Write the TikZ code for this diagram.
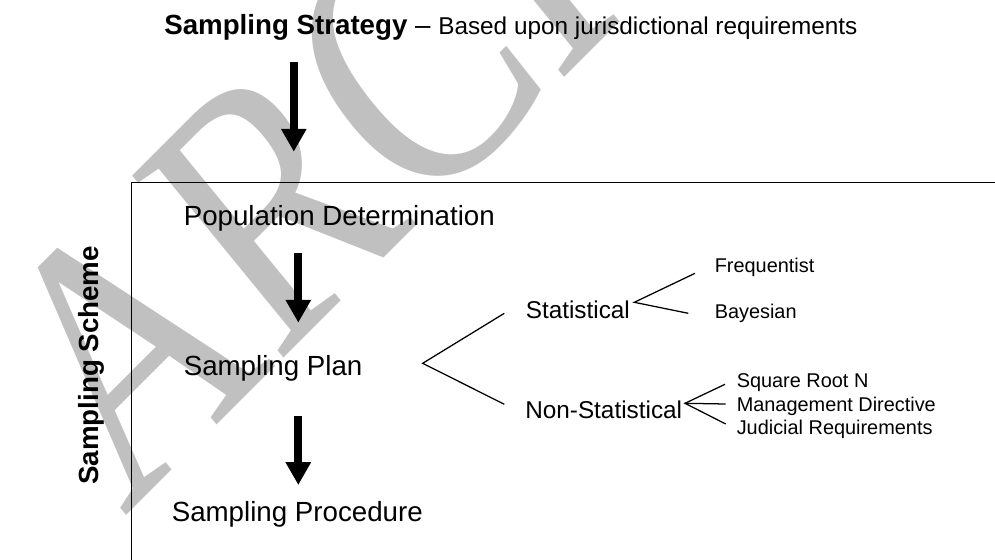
\documentclass[tikz,border=0pt]{standalone}
\usepackage{fontspec}
\setmainfont{Liberation Sans}
\newfontfamily\markfont{Liberation Serif}
\usetikzlibrary{arrows.meta}
\definecolor{markgray}{RGB}{192,192,192}
\tikzset{
  text1/.style = {
    inner sep = 0pt,
    anchor = base west,
    font = \fontsize{19.7}{23}\selectfont,
  }
}
\tikzset{
  text2/.style = {
    inner sep = 0pt,
    anchor = base west,
    font = \fontsize{17.3}{20}\selectfont,
  }
}
\tikzset{
  text3/.style = {
    inner sep = 0pt,
    anchor = base west,
    font = \fontsize{14.15}{16}\selectfont,
  }
}
\tikzset{
  arrow1/.style = {
    draw = black, line width = 0.2cm, -{Triangle[length = 0.57cm, width = 0.6cm]},
  }
}
\tikzset{
  line1/.style = {
    draw = black, line width = 0.9pt,
  }
}

\begin{document}
\begin{tikzpicture}[x = 0.025cm, y = -0.025cm]
        \useasboundingbox (0,0) rectangle (995,560);
        \begin{scope}
            \clip (0,0) rectangle (995,560);
            \node[inner sep = 0pt, anchor = base west, text = markgray, rotate = 45, xslant = 0.1, xscale = 0.83,
                  font = \markfont\fontsize{256}{256}\selectfont](mark) at (124,518){ARCHIVED};
            \draw[line width = 0.9pt](131.7,600) -- (131.7,182.3) -- (1010,182.3);
        \end{scope}
        \node[text1](title) at (164,34.5){\textbf{Sampling Strategy} -- {\fontsize{17.3}{20}\selectfont Based upon jurisdictional requirements}};
        \node[text1, font = \bfseries\fontsize{19.7}{23}\selectfont, rotate = 90, anchor = base](scheme) at (98,365.3){Sampling Scheme};
        \node[text1](pop) at (183.5,225){Population Determination};
        \node[text1](plan) at (183.5,375){Sampling Plan};
        \node[text1](proc) at (171.5,521.7){Sampling Procedure};
        \node[text2](stat) at (525.5,318.3){Statistical};
        \node[text2](nonstat) at (525,418.3){Non-Statistical};
        \node[text3](freq) at (714.5,272.7){Frequentist};
        \node[text3](bayes) at (714.5,318.3){Bayesian};
        \node[text3](sqrtn) at (736.5,387.7){Square Root N};
        \node[text3](mgmt) at (736.5,411){Management Directive};
        \node[text3](judic) at (736.5,434.3){Judicial Requirements};
        % arrows
        \coordinate (a1) at (293.8,61.7);
        \coordinate (b1) at (293.8,151.7);
        \coordinate (a2) at (298.3,253.3);
        \coordinate (b2) at (298.3,322.7);
        \coordinate (a3) at (298.3,415.7);
        \coordinate (b3) at (298.3,485);
        \draw[arrow1](a1) -- (b1);
        \draw[arrow1](a2) -- (b2);
        \draw[arrow1](a3) -- (b3);
        % forks
        \coordinate (f1) at (422.7,363.3);
        \coordinate (f1a) at (504.3,313.3);
        \coordinate (f1b) at (504.3,404.3);
        \coordinate (f2) at (634.3,302.3);
        \coordinate (f2a) at (695,273.3);
        \coordinate (f2b) at (688.3,313.3);
        \coordinate (f3) at (685,403.3);
        \coordinate (f3a) at (725,384.3);
        \coordinate (f3b) at (725.7,404);
        \coordinate (f3c) at (725.7,424);
        \draw[line1](f1a) -- (f1) -- (f1b);
        \draw[line1](f2a) -- (f2) -- (f2b);
        \draw[line1](f3a) -- (f3) -- (f3c);
        \draw[line1](f3) -- (f3b);
    \end{tikzpicture}
\end{document}
